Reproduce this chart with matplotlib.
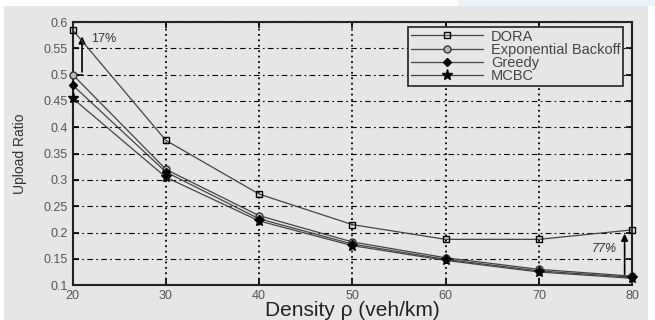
# Upload ratio vs. density
import numpy as np
import matplotlib.pyplot as plt
from matplotlib.patches import Rectangle
from matplotlib.ticker import MultipleLocator

plt.rcParams['font.family'] = ['Liberation Sans', 'DejaVu Sans']

density = [20, 30, 40, 50, 60, 70, 80]
dora = [0.585, 0.375, 0.273, 0.215, 0.187, 0.187, 0.205]
exp_backoff = [0.500, 0.320, 0.232, 0.182, 0.152, 0.130, 0.117]
greedy = [0.480, 0.315, 0.226, 0.178, 0.149, 0.127, 0.115]
mcbc = [0.455, 0.305, 0.222, 0.175, 0.147, 0.125, 0.113]

bg = '#e6e6e6'
fig = plt.figure(figsize=(6.55, 3.2), dpi=100, facecolor='white')
# серый фон как на скриншоте
fig.patches.append(Rectangle((0.006, 0), 0.984, 0.981, transform=fig.transFigure,
                             facecolor=bg, edgecolor='none', zorder=-10))
fig.patches.append(Rectangle((0.70, 0.981), 0.30, 0.019, transform=fig.transFigure,
                             facecolor='#eaf3fb', edgecolor='none', zorder=-10))

ax = fig.add_axes([0.111, 0.109, 0.854, 0.822])
ax.set_facecolor(bg)

lc = '#444444'
ax.plot(density, dora, '-', color=lc, lw=0.9, marker='s', ms=5,
        mfc='none', mec='black', mew=1.0, label='DORA', clip_on=False, zorder=5)
ax.plot(density, exp_backoff, '-', color=lc, lw=0.9, marker='o', ms=5,
        mfc='#bbbbbb', mec='#333333', mew=1.0, label='Exponential Backoff',
        clip_on=False, zorder=5)
ax.plot(density, greedy, '-', color=lc, lw=0.9, marker='D', ms=4,
        mfc='black', mec='black', label='Greedy', clip_on=False, zorder=5)
ax.plot(density, mcbc, '-', color=lc, lw=0.9, marker='*', ms=8,
        mfc='black', mec='black', label='MCBC', clip_on=False, zorder=5)

ax.set_xlim(20, 80)
ax.set_ylim(0.1, 0.6)
ax.xaxis.set_major_locator(MultipleLocator(10))
ax.set_yticks(np.arange(0.1, 0.601, 0.05))
ax.set_yticklabels(['0.1', '0.15', '0.2', '0.25', '0.3', '0.35', '0.4', '0.45', '0.5', '0.55', '0.6'])

ax.xaxis.grid(True, linestyle=(0, (1, 2)), color='black', lw=1.3)
ax.yaxis.grid(True, linestyle=(0, (5, 3, 1.5, 3)), color='black', lw=0.8)
ax.tick_params(direction='in', length=4, labelsize=9, labelcolor='#555555',
               top=True, right=True, width=1.2)
for s in ax.spines.values():
    s.set_linewidth(1.5)
    s.set_color('#222222')

ax.set_xlabel('Density ρ (veh/km)', fontsize=15, labelpad=-1, color='#222222')
ax.set_ylabel('Upload Ratio', fontsize=10, labelpad=12, color='#333333')

# стрелки с процентами
ax.plot([20, 21], [0.5, 0.5], color='black', lw=1.2)
ax.annotate('', xy=(21, 0.578), xytext=(21, 0.5),
            arrowprops=dict(arrowstyle='-|>', color='black', lw=1.2, mutation_scale=10))
ax.text(22.0, 0.567, '17%', fontsize=9, color='#333333', va='center', ha='left')

ax.annotate('', xy=(79.2, 0.203), xytext=(79.2, 0.115),
            arrowprops=dict(arrowstyle='-|>', color='black', lw=1.2, mutation_scale=10))
ax.plot([79.2, 80], [0.115, 0.115], color='black', lw=1.2)
ax.text(78.4, 0.168, '77%', fontsize=9, color='#333333', va='center', ha='right',
        style='italic')

leg = ax.legend(loc='upper right', bbox_to_anchor=(0.983, 0.98), fontsize=10.5,
                frameon=True, fancybox=False, borderpad=0.15, labelspacing=-0.05,
                handlelength=5.0, handletextpad=0.5, borderaxespad=0.0)
leg.get_frame().set_facecolor(bg)
leg.get_frame().set_edgecolor('#222222')
leg.get_frame().set_linewidth(1.2)
leg.get_frame().set_alpha(1)
for t in leg.get_texts():
    t.set_color('#444444')

fig.savefig('out.png', dpi=100, facecolor=fig.get_facecolor())
